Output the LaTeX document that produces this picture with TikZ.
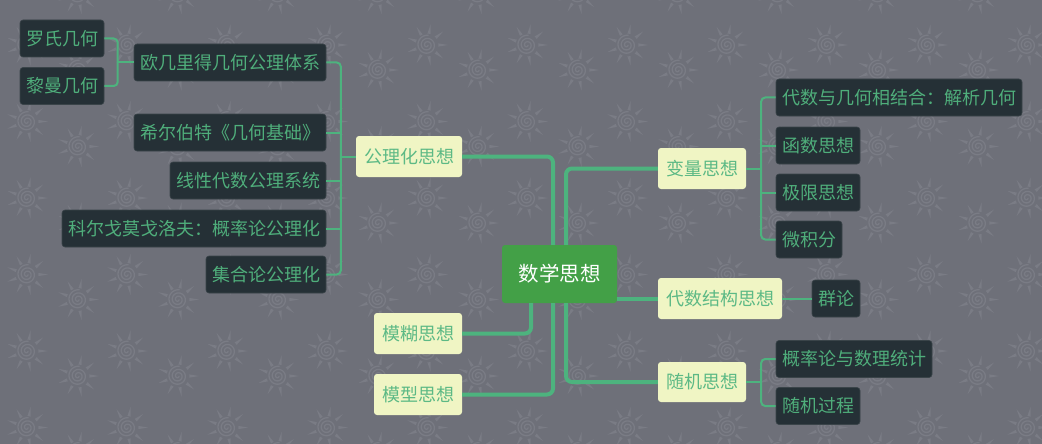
\documentclass[tikz,border=0pt]{standalone}
\usepackage{fontspec}
\newfontfamily\cjk{Noto Sans CJK SC}
\usetikzlibrary{calc}
\definecolor{bgc}{HTML}{6E7079}
\definecolor{sunc}{HTML}{7A7C85}
\definecolor{linec}{HTML}{4DB37E}
\definecolor{darkbox}{HTML}{253036}
\definecolor{darkedge}{HTML}{3A4449}
\definecolor{darktext}{HTML}{4FAE7B}
\definecolor{ybox}{HTML}{F0F5C4}
\definecolor{ytext}{HTML}{5CB985}
\definecolor{rootc}{HTML}{43A047}
\begin{document}
\begin{tikzpicture}[x=1pt,y=-1pt,
 base/.style={inner sep=0pt, rounded corners=3pt, font=\cjk\fontsize{18}{18}\selectfont, anchor=center},
 rootbox/.style={base, fill=rootc, text=white, font=\cjk\fontsize{20.5}{20.5}\selectfont, minimum width=115pt, minimum height=58pt},
 topic/.style={base, fill=ybox, text=ytext, minimum height=41pt},
 sub/.style={base, fill=darkbox, text=darktext, minimum height=37pt, draw=darkedge, line width=0.6pt},
 mainline/.style={draw=linec, line width=4pt, rounded corners=6pt},
 subline/.style={draw=linec, line width=2pt, rounded corners=4pt},
 sunpic/.pic={
   \foreach \a in {0,40,...,320}{\fill[sunc] (\a-8:11.5) -- (\a:21) -- (\a+8:11.5) -- cycle;}
   \draw[sunc, line width=1.3pt] plot[domain=0:1000, samples=90, smooth] (\x:{0.8+\x/110});
 }]
\useasboundingbox (0,0) rectangle (1042,444);
\fill[bgc] (0,0) rectangle (1042,444);
\begin{scope}
\clip (0,0) rectangle (1042,444);
\foreach \i in {-1,...,10}{
  \foreach \j in {-1,...,5}{
    \pic at ({27+100*\i},{45+76.5*\j}) {sunpic};
    \pic at ({78+100*\i},{70+76.5*\j}) {sunpic};
  }
}
\end{scope}

% root
\node[rootbox] (c) at (559.5,274) {数学思想};
% level 1
\node[topic, minimum width=106pt] (gl) at (409,156.5) {公理化思想};
\node[topic, minimum width=88pt] (bl) at (702,168.5) {变量思想};
\node[topic, minimum width=124pt] (dj) at (720,298.5) {代数结构思想};
\node[topic, minimum width=88pt, minimum height=40pt] (sj) at (702,382) {随机思想};
\node[topic, minimum width=88pt] (mh) at (418,333.5) {模糊思想};
\node[topic, minimum width=88pt] (mx) at (418,394.5) {模型思想};
% level 2 left
\node[sub, minimum width=192pt] (ol) at (230,62.5) {欧几里得几何公理体系};
\node[sub, minimum width=192pt] (xe) at (230,132.5) {希尔伯特《几何基础》};
\node[sub, minimum width=156pt] (xx) at (248,180.5) {线性代数公理系统};
\node[sub, minimum width=264pt] (ke) at (194,228.5) {科尔戈莫戈洛夫：概率论公理化};
\node[sub, minimum width=120pt] (jh) at (266,274.5) {集合论公理化};
\node[sub, minimum width=84pt] (lsh) at (62,38.5) {罗氏几何};
\node[sub, minimum width=84pt] (lm) at (62,86) {黎曼几何};
% level 2 right
\node[sub, minimum width=246pt] (ds) at (899,97.5) {代数与几何相结合：解析几何};
\node[sub, minimum width=84pt] (hs) at (818,145.5) {函数思想};
\node[sub, minimum width=84pt] (jx) at (818,192.5) {极限思想};
\node[sub, minimum width=66pt] (wj) at (809,239.5) {微积分};
\node[sub, minimum width=48pt] (ql) at (836,298.5) {群论};
\node[sub, minimum width=156pt] (gs) at (854,359) {概率论与数理统计};
\node[sub, minimum width=84pt] (sg) at (818,406) {随机过程};

% main connectors
\draw[mainline] (gl.east) -| ([xshift=-6.5pt]c.north);
\draw[mainline] (bl.west) -| ([xshift=6.5pt]c.north);
\draw[mainline] (dj.west) -- (dj.west -| c.east);
\draw[mainline] ([xshift=-28.5pt]c.south) |- (mh.east);
\draw[mainline] ([xshift=-6.5pt]c.south) |- (mx.east);
\draw[mainline] ([xshift=6.5pt]c.south) |- (sj.west);

% sub connectors: 公理化思想
\coordinate (glj) at ([xshift=-15pt]gl.west);
\draw[subline] (gl.west) -- (glj);
\draw[subline] (ol.east) -| (glj) |- (jh.east);
\draw[subline] (xe.east) -- (xe.east -| glj);
\draw[subline] (xx.east) -- (xx.east -| glj);
\draw[subline] (ke.east) -- (ke.east -| glj);
% 欧几里得
\coordinate (olj) at ([xshift=-16pt]ol.west);
\draw[subline] (ol.west) -- (olj);
\draw[subline] (lsh.east) -| (olj) |- (lm.east);
% 变量思想
\coordinate (blj) at ([xshift=15pt]bl.east);
\draw[subline] (bl.east) -- (blj);
\draw[subline] (ds.west) -| (blj) |- (wj.west);
\draw[subline] (hs.west) -- (hs.west -| blj);
\draw[subline] (jx.west) -- (jx.west -| blj);
% 代数结构
\draw[subline] (dj.east) -- (ql.west);
% 随机思想
\coordinate (sjj) at ([xshift=15pt]sj.east);
\draw[subline] (sj.east) -- (sjj);
\draw[subline] (gs.west) -| (sjj) |- (sg.west);
\end{tikzpicture}
\end{document}
